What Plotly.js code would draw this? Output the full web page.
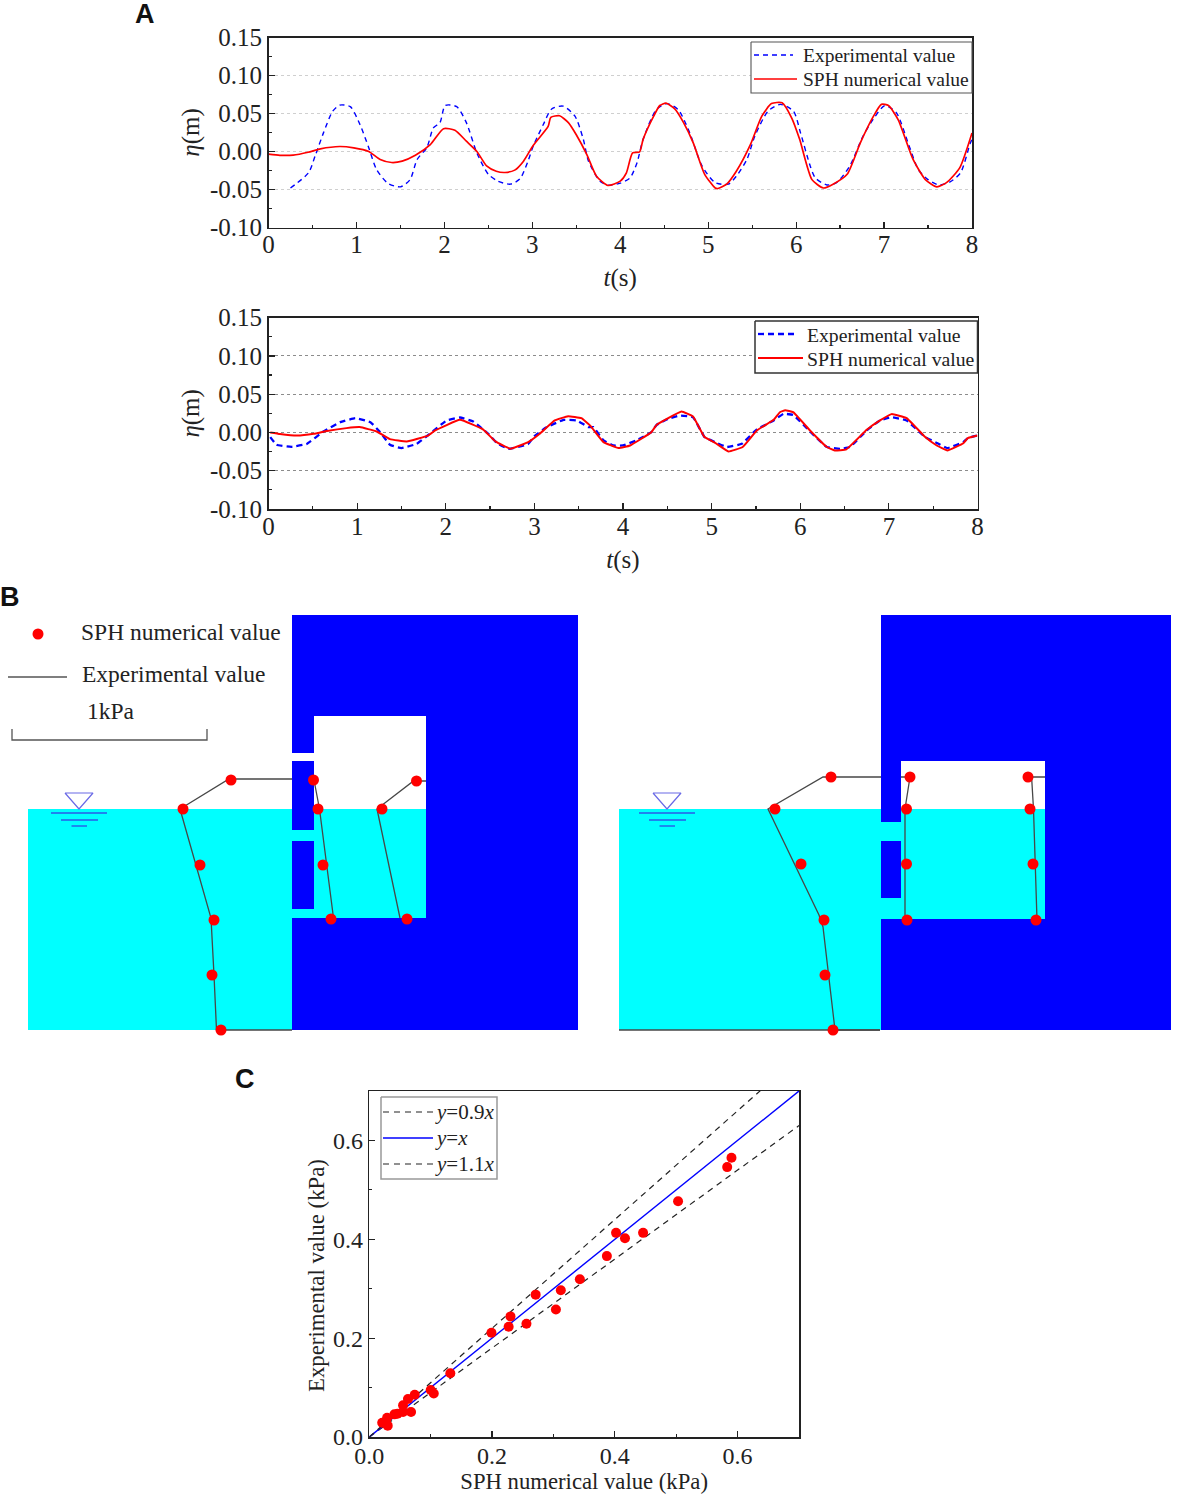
<!DOCTYPE html>
<html>
<head>
<meta charset="utf-8">
<script src="https://cdn.plot.ly/plotly-3.0.1.min.js"></script>
<style>
html, body { margin: 0; padding: 0; background: #fff; overflow: hidden; }
#chart { width: 1185px; height: 1495px; }
</style>
</head>
<body>
<div id="chart"></div>
<script>
"use strict";

var W = 1185, H = 1495;

// panel A, upper plot
var a1ExpT = [0.25,0.455,0.53,0.625,0.73,0.81,0.93,1.04,1.14,1.23,1.36,1.5,1.61,1.69,1.8,1.875,1.95,2.01,2.14,2.25,2.37,2.5,2.61,2.75,2.86,2.95,3.01,3.125,3.22,3.35,3.485,3.58,3.64,3.77,3.86,4,4.11,4.19,4.26,4.41,4.53,4.66,4.79,4.93,5.08,5.23,5.32,5.44,5.53,5.68,5.82,5.97,6.05,6.16,6.22,6.35,6.46,6.61,6.76,6.9,7.01,7.14,7.28,7.39,7.5,7.62,7.75,7.87,7.98,8];
var a1ExpEta = [-0.048,-0.028,-0.006,0.0245,0.053,0.061,0.059,0.0355,0.005,-0.024,-0.042,-0.0465,-0.037,-0.0105,0.005,0.031,0.038,0.0605,0.059,0.038,-0.002,-0.03,-0.039,-0.043,-0.036,-0.013,0.007,0.0355,0.056,0.0597,0.0465,0.016,-0.013,-0.039,-0.0443,-0.0417,-0.035,-0.015,0.016,0.055,0.063,0.055,0.0245,-0.019,-0.041,-0.043,-0.0325,-0.0105,0.02,0.053,0.062,0.053,0.0245,-0.019,-0.035,-0.044,-0.041,-0.019,0.02,0.0465,0.0605,0.051,0.009,-0.024,-0.037,-0.044,-0.04,-0.028,0.011,0.016];
var a1SphT = [0,0.13,0.28,0.45,0.59,0.81,0.97,1.14,1.27,1.4,1.52,1.67,1.84,1.99,2.12,2.25,2.37,2.48,2.59,2.69,2.8,2.9,3.01,3.18,3.21,3.31,3.41,3.5,3.62,3.73,3.86,4,4.07,4.14,4.22,4.26,4.38,4.45,4.52,4.62,4.72,4.83,4.96,5.08,5.11,5.21,5.32,5.48,5.61,5.72,5.84,5.95,6.04,6.18,6.31,6.42,6.58,6.73,6.88,6.97,7.05,7.16,7.33,7.47,7.6,7.71,7.86,8];
var a1SphEta = [-0.0035,-0.005,-0.0048,-0.001,0.0035,0.0066,0.0048,0,-0.0105,-0.0145,-0.0127,-0.005,0.009,0.03,0.028,0.0136,0,-0.019,-0.026,-0.0276,-0.0245,-0.0127,0.008,0.033,0.045,0.047,0.038,0.022,-0.004,-0.0325,-0.0447,-0.039,-0.028,-0.0018,-0.0005,0.016,0.0465,0.0605,0.0636,0.056,0.038,0.0114,-0.03,-0.048,-0.0487,-0.043,-0.026,0.009,0.0465,0.063,0.064,0.044,0.016,-0.037,-0.048,-0.043,-0.03,0.0114,0.0465,0.062,0.0605,0.042,-0.0105,-0.037,-0.0465,-0.041,-0.0215,0.0245];

// panel A, lower plot
var a2ExpT = [0.02,0.09,0.26,0.43,0.62,0.81,0.98,1.15,1.26,1.37,1.5,1.67,1.82,2.01,2.16,2.31,2.48,2.58,2.71,2.93,3,3.14,3.33,3.48,3.61,3.665,3.78,3.89,4,4.15,4.32,4.38,4.51,4.64,4.79,4.92,5.04,5.17,5.34,5.51,5.7,5.81,5.92,6.11,6.3,6.45,6.56,6.75,6.9,7.03,7.2,7.41,7.56,7.66,7.84,7.89,8];
var a2ExpEta = [-0.006,-0.016,-0.0187,-0.015,0.0013,0.0135,0.0187,0.0135,0.0004,-0.016,-0.0204,-0.015,-0.0017,0.0157,0.0196,0.0143,-0.0017,-0.014,-0.0213,-0.015,-0.005,0.007,0.0165,0.0157,0.007,0.007,-0.0104,-0.017,-0.017,-0.0104,0.0004,0.01,0.0178,0.022,0.02,-0.006,-0.0126,-0.019,-0.0148,0.004,0.0157,0.0243,0.023,0.0013,-0.019,-0.0213,-0.019,0.0026,0.0157,0.02,0.0157,-0.006,-0.0148,-0.0204,-0.0126,-0.0074,-0.004];
var a2SphT = [0.02,0.13,0.32,0.51,0.66,0.88,1.03,1.22,1.37,1.56,1.8,1.88,2.16,2.42,2.56,2.73,2.93,3.06,3.23,3.38,3.53,3.63,3.78,3.95,4.08,4.32,4.38,4.51,4.66,4.79,4.92,5.04,5.19,5.35,5.51,5.7,5.77,5.83,5.92,6.11,6.3,6.39,6.52,6.75,6.9,7.03,7.2,7.41,7.54,7.66,7.84,7.89,8];
var a2SphEta = [0,-0.002,-0.004,-0.0017,0.002,0.0057,0.007,0.0013,-0.0087,-0.0117,-0.004,0.0026,0.0165,0.004,-0.0117,-0.0213,-0.0126,-0.0017,0.0157,0.0213,0.0187,0.009,-0.0126,-0.0204,-0.017,0.0004,0.01,0.0187,0.0274,0.021,-0.006,-0.0135,-0.0248,-0.019,0.0026,0.0165,0.0265,0.029,0.0265,0.0026,-0.019,-0.0235,-0.022,0.0035,0.0157,0.024,0.0187,-0.006,-0.017,-0.0235,-0.014,-0.0074,-0.004];

var aTimeTicks = [0,1,2,3,4,5,6,7,8];
var aTimeLabels = ['0','1','2','3','4','5','6','7','8'];
var aEtaTicks = [-0.10,-0.05,0,0.05,0.10,0.15];
var aEtaLabels = ['-0.10','-0.05','0.00','0.05','0.10','0.15'];

// panel B, sketch units on the hidden overlay axes (the figure has no axes here)
var bLeftSolid = [292,578,615,1030];
var bLeftWater = [28,292,809,1030];
var bLeftAir = [314,426,716,809];
var bLeftChamber = [314,426,809,918];
var bLeftGapTop = [292,314,753,761];
var bLeftGapMid = [292,314,830,841];
var bLeftGapLow = [292,314,909,918];

var bRightSolid = [881,1171,615,1030];
var bRightWater = [619,881,809,1030];
var bRightAir = [901,1045,761,809];
var bRightChamber = [901,1045,809,919];
var bRightGapMid = [881,901,822,841];
var bRightGapLow = [881,901,898,919];

var bLeftOuterLineX = [292,229,180,211,214,216.5,292];
var bLeftOuterLineY = [779,779,809,918,975,1030,1030];
var bLeftInnerLineX = [314,319.5,333.5];
var bLeftInnerLineY = [780,809,918];
var bLeftBackLineX = [426,413.5,377,400];
var bLeftBackLineY = [781,781,809,918];
var bLeftDotsX = [231,183,200,214,212,221,313.5,318,323,331,416.5,382,407];
var bLeftDotsY = [780,809,865,920,975,1030,780,809,865,919,781,809,919];

var bRightOuterLineX = [881,823,768,819,823,835,880];
var bRightOuterLineY = [777,777,809,915,927,1030,1030];
var bRightFloorX = [619,880];
var bRightFloorY = [1030,1030];
var bRightInnerLineX = [901,910,905,905];
var bRightInnerLineY = [777,777,809,920];
var bRightBackLineX = [1045,1031.6,1033.5,1037];
var bRightBackLineY = [777,777,809,920];
var bRightDotsX = [831,775,801,824,825,833,910,906.5,906.5,907,1028,1030,1033,1036];
var bRightDotsY = [777,809,864,920,975,1030,777,809,864,920,777,809,864,920];

var bKeyDotX = [38], bKeyDotY = [634];
var bKeyLineX = [8,67], bKeyLineY = [677,677];
var bScaleX = [12,12,207,207], bScaleY = [729,740,740,729];

// panel C
var cSphValue = [0.590,0.583,0.503,0.446,0.4165,0.402,0.387,0.343,0.312,0.304,0.271,0.256,0.230,0.227,0.199,0.132,0.105,0.100,0.074,0.068,0.063,0.055,0.055,0.046,0.041,0.029,0.030,0.027,0.021];
var cExpValue = [0.565,0.546,0.477,0.413,0.402,0.413,0.366,0.319,0.297,0.258,0.288,0.229,0.244,0.223,0.211,0.129,0.088,0.095,0.0856,0.0505,0.0768,0.064,0.0505,0.047,0.0458,0.039,0.023,0.031,0.029];
var cGuideX = [0,0.7];
var cGuideLow = [0,0.63];
var cGuideMid = [0,0.7];
var cGuideHigh = [0,0.77];
var cTicks = [0,0.2,0.4,0.6];
var cLabels = ['0.0','0.2','0.4','0.6'];

// legend keys, drawn on the overlay because the native legend rows are too tall here
var keyNames = ['Experimental value', 'SPH numerical value'];
var guideNames = ['<i>y</i>=0.9<i>x</i>', '<i>y</i>=<i>x</i>', '<i>y</i>=1.1<i>x</i>'];

var serif = '"Liberation Serif", "Times New Roman", serif';
var ink = '#222222';
var BLUE = '#0000ff', CYAN = '#00ffff', RED = '#ff0000', LINE = '#474747';

function px(x) { return x / W; }
function py(y) { return 1 - y / H; }

function rectTrace(r, color) {
    return {
        x: [r[0], r[1], r[1], r[0], r[0]],
        y: [r[2], r[2], r[3], r[3], r[2]],
        xaxis: 'x3', yaxis: 'y3', mode: 'lines', fill: 'toself',
        fillcolor: color, line: { width: 0 }, showlegend: false, hoverinfo: 'skip'
    };
}

function schemeLine(x, y, color, width, dash) {
    return {
        x: x, y: y, xaxis: 'x3', yaxis: 'y3', mode: 'lines',
        line: { color: color || LINE, width: width || 1.3, dash: dash || 'solid' },
        showlegend: false, hoverinfo: 'skip'
    };
}

function schemeDots(x, y) {
    return {
        x: x, y: y, xaxis: 'x3', yaxis: 'y3', mode: 'markers',
        marker: { color: RED, size: 11 }, showlegend: false, hoverinfo: 'skip'
    };
}

function waterSign(cx) {
    return [
        schemeLine([cx - 14, cx + 14, cx, cx - 14], [793, 793, 809, 793], '#6a6ae6', 1.2),
        schemeLine([cx - 28, cx + 28], [813, 813], '#2a5ae8', 1.4),
        schemeLine([cx - 18, cx + 19], [820, 820], '#2a5ae8', 1.4),
        schemeLine([cx - 7.5, cx + 8], [826, 826], '#2a5ae8', 1.4)
    ];
}

function keyBox(r, color, width) {
    return [
        rectTrace(r, '#ffffff'),
        schemeLine([r[0], r[1], r[1], r[0], r[0]], [r[2], r[2], r[3], r[3], r[2]], color, width)
    ];
}

var traces = [
    { x: a1ExpT, y: a1ExpEta, name: keyNames[0], mode: 'lines', showlegend: false,
      line: { color: BLUE, width: 1.4, dash: '5px,4px', shape: 'spline', smoothing: 0.7 }, hoverinfo: 'skip' },
    { x: a1SphT, y: a1SphEta, name: keyNames[1], mode: 'lines', showlegend: false,
      line: { color: RED, width: 1.7, shape: 'spline', smoothing: 0.6 }, hoverinfo: 'skip' },
    { x: a2ExpT, y: a2ExpEta, name: keyNames[0], mode: 'lines', showlegend: false,
      xaxis: 'x2', yaxis: 'y2', line: { color: BLUE, width: 2.3, dash: '6px,4px', shape: 'spline', smoothing: 0.3 }, hoverinfo: 'skip' },
    { x: a2SphT, y: a2SphEta, name: keyNames[1], mode: 'lines', showlegend: false,
      xaxis: 'x2', yaxis: 'y2', line: { color: RED, width: 2, shape: 'spline', smoothing: 0.3 }, hoverinfo: 'skip' },

    rectTrace(bLeftSolid, BLUE),
    rectTrace(bLeftWater, CYAN),
    rectTrace(bLeftAir, '#ffffff'),
    rectTrace(bLeftChamber, CYAN),
    rectTrace(bLeftGapTop, '#ffffff'),
    rectTrace(bLeftGapMid, CYAN),
    rectTrace(bLeftGapLow, CYAN),
    rectTrace(bRightSolid, BLUE),
    rectTrace(bRightWater, CYAN),
    rectTrace(bRightAir, '#ffffff'),
    rectTrace(bRightChamber, CYAN),
    rectTrace(bRightGapMid, CYAN),
    rectTrace(bRightGapLow, CYAN)
].concat(waterSign(79), waterSign(667), [
    schemeLine(bLeftOuterLineX, bLeftOuterLineY),
    schemeLine(bLeftInnerLineX, bLeftInnerLineY),
    schemeLine(bLeftBackLineX, bLeftBackLineY),
    schemeLine(bRightOuterLineX, bRightOuterLineY),
    schemeLine(bRightFloorX, bRightFloorY),
    schemeLine(bRightInnerLineX, bRightInnerLineY),
    schemeLine(bRightBackLineX, bRightBackLineY),
    schemeDots(bLeftDotsX, bLeftDotsY),
    schemeDots(bRightDotsX, bRightDotsY),
    schemeDots(bKeyDotX, bKeyDotY),
    schemeLine(bKeyLineX, bKeyLineY, '#555555', 1.3),
    schemeLine(bScaleX, bScaleY, '#555555', 1.3)
], keyBox([751, 972, 42, 93], '#555555', 1.1), [
    schemeLine([754, 793], [55, 55], BLUE, 1.4, '5px,4px'),
    schemeLine([754, 797], [79, 79], RED, 1.7)
], keyBox([755, 977.5, 321, 373], '#333333', 1.5), [
    schemeLine([758, 798], [334, 334], BLUE, 2.3, '6px,4px'),
    schemeLine([758, 803], [358, 358], RED, 2)
], keyBox([381, 497, 1097, 1179], '#999999', 1.5), [
    schemeLine([383, 433], [1112, 1112], '#222222', 1.2, '6px,5px'),
    schemeLine([383, 433], [1138, 1138], BLUE, 1.4),
    schemeLine([383, 433], [1164, 1164], '#222222', 1.2, '6px,5px'),

    { x: cGuideX, y: cGuideLow, name: guideNames[0], mode: 'lines', showlegend: false,
      xaxis: 'x4', yaxis: 'y4', line: { color: '#222222', width: 1.2, dash: '6px,5px' }, hoverinfo: 'skip' },
    { x: cGuideX, y: cGuideMid, name: guideNames[1], mode: 'lines', showlegend: false,
      xaxis: 'x4', yaxis: 'y4', line: { color: BLUE, width: 1.4 }, hoverinfo: 'skip' },
    { x: cGuideX, y: cGuideHigh, name: guideNames[2], mode: 'lines', showlegend: false,
      xaxis: 'x4', yaxis: 'y4', line: { color: '#222222', width: 1.2, dash: '6px,5px' }, hoverinfo: 'skip' },
    { x: cSphValue, y: cExpValue, mode: 'markers', showlegend: false,
      xaxis: 'x4', yaxis: 'y4', marker: { color: RED, size: 10 }, hoverinfo: 'skip' }
]);

function frameAxis(extra) {
    var base = {
        showline: true, mirror: true, linecolor: ink, linewidth: 1.5,
        ticks: 'inside', ticklen: 6, tickcolor: ink, tickwidth: 1.2,
        zeroline: false, showgrid: false, tickmode: 'array',
        tickfont: { family: serif, size: 25, color: ink }
    };
    for (var k in extra) { base[k] = extra[k]; }
    return base;
}

function timeAxis(left, right, anchor, standoff) {
    return frameAxis({
        domain: [px(left), px(right)], range: [0, 8], anchor: anchor,
        tickvals: aTimeTicks, ticktext: aTimeLabels, ticklabelstandoff: -6,
        minor: { tick0: 0, dtick: 0.5, ticks: 'inside', ticklen: 3, tickcolor: ink, showgrid: false },
        title: { text: '<i>t</i>(s)', standoff: standoff, font: { family: serif, size: 25, color: ink } }
    });
}

function etaAxis(top, bottom, anchor, gridColor) {
    return frameAxis({
        domain: [py(bottom), py(top)], range: [-0.10, 0.15], anchor: anchor,
        tickvals: aEtaTicks, ticktext: aEtaLabels,
        showgrid: true, gridcolor: gridColor, griddash: 'dot', gridwidth: 1,
        minor: { tick0: -0.10, dtick: 0.025, ticks: 'inside', ticklen: 3, tickcolor: ink, showgrid: false },
        title: { text: '<i>η</i>(m)', standoff: 3, font: { family: serif, size: 25, color: ink } }
    });
}

function note(text, x, y, size, anchor, angle) {
    return {
        text: text, xref: 'x3', yref: 'y3', x: x, y: y, showarrow: false,
        xanchor: anchor || 'left', yanchor: 'middle', textangle: angle || 0,
        font: { family: serif, size: size, color: ink }
    };
}

function panelLetter(text, x, y) {
    return {
        text: '<b>' + text + '</b>', xref: 'paper', yref: 'paper', x: px(x), y: py(y),
        showarrow: false, xanchor: 'left', yanchor: 'middle',
        font: { family: '"Liberation Sans", Arial, sans-serif', size: 27, color: '#111111' }
    };
}

var layout = {
    width: W, height: H, autosize: false, showlegend: false,
    margin: { l: 0, r: 0, t: 0, b: 0, pad: 0 },
    paper_bgcolor: '#ffffff', plot_bgcolor: 'rgba(0,0,0,0)',
    xaxis: timeAxis(268.5, 972, 'y', 11),
    yaxis: etaAxis(37.5, 227.5, 'x', '#cfcfcf'),
    xaxis2: timeAxis(268.5, 977.5, 'y2', 12),
    yaxis2: etaAxis(317.7, 509, 'x2', '#8c8c8c'),
    xaxis3: { domain: [0, 1], range: [0, W], visible: false, anchor: 'y3', fixedrange: true },
    yaxis3: { domain: [0, 1], range: [H, 0], visible: false, anchor: 'x3', fixedrange: true },
    xaxis4: frameAxis({
        domain: [px(369.3), px(799)], range: [0, 0.7], anchor: 'y4',
        tickvals: cTicks, ticktext: cLabels, ticklabelstandoff: -3,
        tickfont: { family: serif, size: 24, color: ink },
        minor: { tick0: 0, dtick: 0.1, ticks: 'inside', ticklen: 3, tickcolor: ink, showgrid: false },
        title: { text: 'SPH numerical value (kPa)', standoff: 1, font: { family: serif, size: 22.7, color: ink } }
    }),
    yaxis4: frameAxis({
        domain: [py(1437), py(1091)], range: [0, 0.7], anchor: 'x4',
        tickvals: cTicks, ticktext: cLabels,
        tickfont: { family: serif, size: 24, color: ink }
    }),
    annotations: [
        panelLetter('A', 133, 14),
        panelLetter('B', -2, 597),
        panelLetter('C', 233, 1079),
        note('SPH numerical value', 79, 632, 23.5),
        note('Experimental value', 79.5, 674, 23.5),
        note('1kPa', 85, 711, 23.5),
        note('Experimental value', 801, 55, 19.5),
        note('SPH numerical value', 801, 79.5, 19.5),
        note('Experimental value', 805, 334.5, 19.7),
        note('SPH numerical value', 805, 358.5, 19.7),
        note(guideNames[0], 433, 1112, 21),
        note(guideNames[1], 433, 1138, 21),
        note(guideNames[2], 433, 1164, 21),
        note('Experimental value (kPa)', 316, 1276, 22.8, 'center', -90)
    ]
};
layout.yaxis4.minor = { tick0: 0, dtick: 0.1, ticks: 'inside', ticklen: 3, tickcolor: ink, showgrid: false };

Plotly.newPlot('chart', traces, layout, { displayModeBar: false, staticPlot: true });
</script>
</body>
</html>
